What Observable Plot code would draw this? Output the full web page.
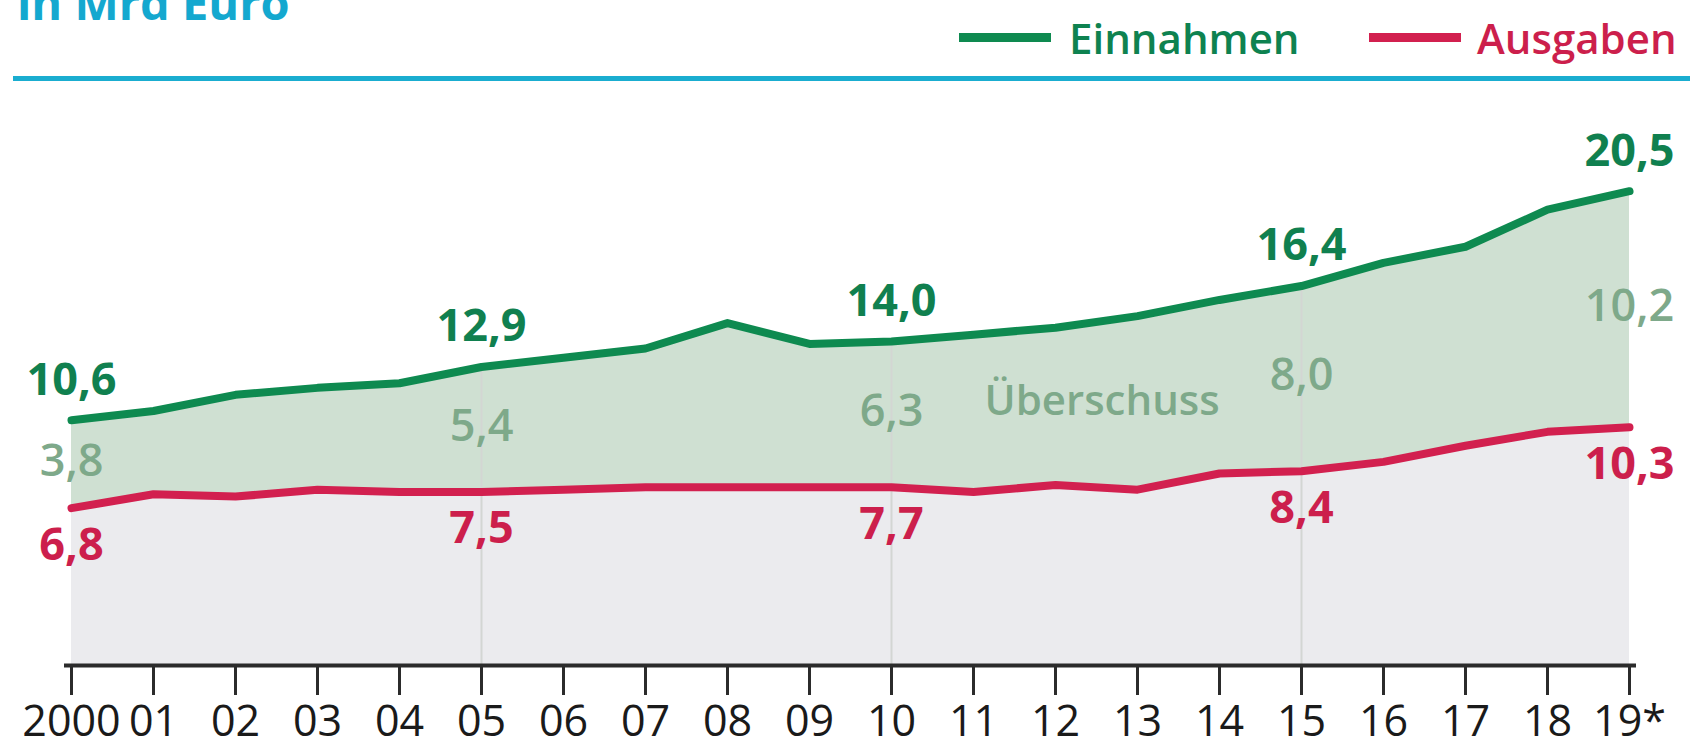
<!DOCTYPE html>
<html><head><meta charset="utf-8">
<script src="https://cdn.jsdelivr.net/npm/d3@7"></script>
<script src="https://cdn.jsdelivr.net/npm/@observablehq/plot@0.6"></script>
<style>
html,body{margin:0;padding:0;background:#fff;overflow:hidden}
body{width:1690px;height:746px;position:relative;font-family:"Open Sans",sans-serif}
#header{position:relative;height:84px;width:1690px;overflow:hidden}
#title{position:absolute;left:17px;top:-21px;font-size:47px;line-height:47px;font-weight:700;color:#14a8cf;white-space:nowrap}
.sw{position:absolute;top:33px;height:9px;width:92px}
.lt{position:absolute;top:17px;font-size:42px;line-height:42px;font-weight:600;white-space:nowrap}
#rule{position:absolute;left:13px;right:0;top:76px;height:5px;background:#1aadd0}
#chart svg{display:block}
</style></head><body>
<div id="header">
  <div id="title"></div>
  <div class="sw" id="sw0" style="left:959px;background:#0e8a50"></div>
  <div class="lt" id="lt0" style="left:1069px;color:#0e8250"></div>
  <div class="sw" id="sw1" style="left:1369px;background:#d2204f"></div>
  <div class="lt" id="lt1" style="left:1477px;color:#cc1f4c"></div>
  <div id="rule"></div>
</div>
<div id="chart"></div>
<script>
// ---- data ----
const titleText = "in Mrd Euro";
const seriesNames = ["Einnahmen", "Ausgaben"];
const surplusName = "Überschuss";
const years = ["2000","01","02","03","04","05","06","07","08","09","10","11","12","13","14","15","16","17","18","19*"];
const einnahmen = [10.6, 11.0, 11.7, 12.0, 12.2, 12.9, 13.3, 13.7, 14.8, 13.9, 14.0, 14.3, 14.6, 15.1, 15.8, 16.4, 17.4, 18.1, 19.7, 20.5];
const ausgaben  = [6.8, 7.4, 7.3, 7.6, 7.5, 7.5, 7.6, 7.7, 7.7, 7.7, 7.7, 7.5, 7.8, 7.6, 8.3, 8.4, 8.8, 9.5, 10.1, 10.3];
const labeledYears = ["2000","05","10","15","19*"];
const gridYears = ["05","10","15"];
const surplusLabelYear = "11";

// ---- header ----
document.getElementById("title").textContent = titleText;
document.getElementById("lt0").textContent = seriesNames[0];
document.getElementById("lt1").textContent = seriesNames[1];

// ---- chart ----
const rows = years.map((y, i) => ({year: y, ein: einnahmen[i], aus: ausgaben[i]}));
const lab = rows.filter(d => labeledYears.includes(d.year));
const grid = rows.filter(d => gridYears.includes(d.year));
const sLab = rows.filter(d => d.year === surplusLabelYear);
const fmt = v => d3.format(".1f")(v).replace(".", ",");
const FONT = '"Open Sans", sans-serif';

const plot = Plot.plot({
  width: 1690, height: 662,
  marginLeft: 64, marginRight: 54, marginTop: 72, marginBottom: 81,
  x: {type: "point", domain: years, padding: 0},
  y: {domain: [0, 22], axis: null},
  style: {fontFamily: FONT, background: "transparent", overflow: "visible"},
  marks: [
    Plot.areaY(rows, {x: "year", y1: 0, y2: "aus", fill: "#ebebee"}),
    Plot.areaY(rows, {x: "year", y1: "aus", y2: "ein", fill: "#cfe0d2"}),
    Plot.ruleX(grid, {x: "year", y1: 0, y2: "ein", stroke: "#d3d6d3", strokeWidth: 2}),
    Plot.lineY(rows, {x: "year", y: "aus", stroke: "#d2204f", strokeWidth: 8, strokeLinejoin: "round"}),
    Plot.lineY(rows, {x: "year", y: "ein", stroke: "#0e8a50", strokeWidth: 8, strokeLinejoin: "round"}),
    Plot.ruleY([0], {stroke: "#2b2b2b", strokeWidth: 4}),
    Plot.axisX({label: null, tickSize: 30, tickPadding: 10, fontSize: 43, fontWeight: 400, stroke: "#2b2b2b", strokeWidth: 3, fill: "#1a1a1a", strokeOpacity: 1}),
    Plot.text(lab, {x: "year", y: "ein", text: d => fmt(d.ein), dy: -40, fill: "#10804f", fontSize: 45, fontWeight: 700}),
    Plot.text(lab, {x: "year", y: d => (d.ein + d.aus) / 2, text: d => fmt(d.ein - d.aus), dy: -3, fill: "#7ea98a", fontSize: 45, fontWeight: 600}),
    Plot.text(lab, {x: "year", y: "aus", text: d => fmt(d.aus), dy: 37, fill: "#cc1f4c", fontSize: 45, fontWeight: 700}),
    Plot.text(sLab, {x: "year", y: d => (d.ein + d.aus) / 2, text: () => surplusName, textAnchor: "start", dx: 11, dy: -12, fill: "#7ea98a", fontSize: 42, fontWeight: 600})
  ]
});
document.getElementById("chart").appendChild(plot);
</script>
</body></html>
